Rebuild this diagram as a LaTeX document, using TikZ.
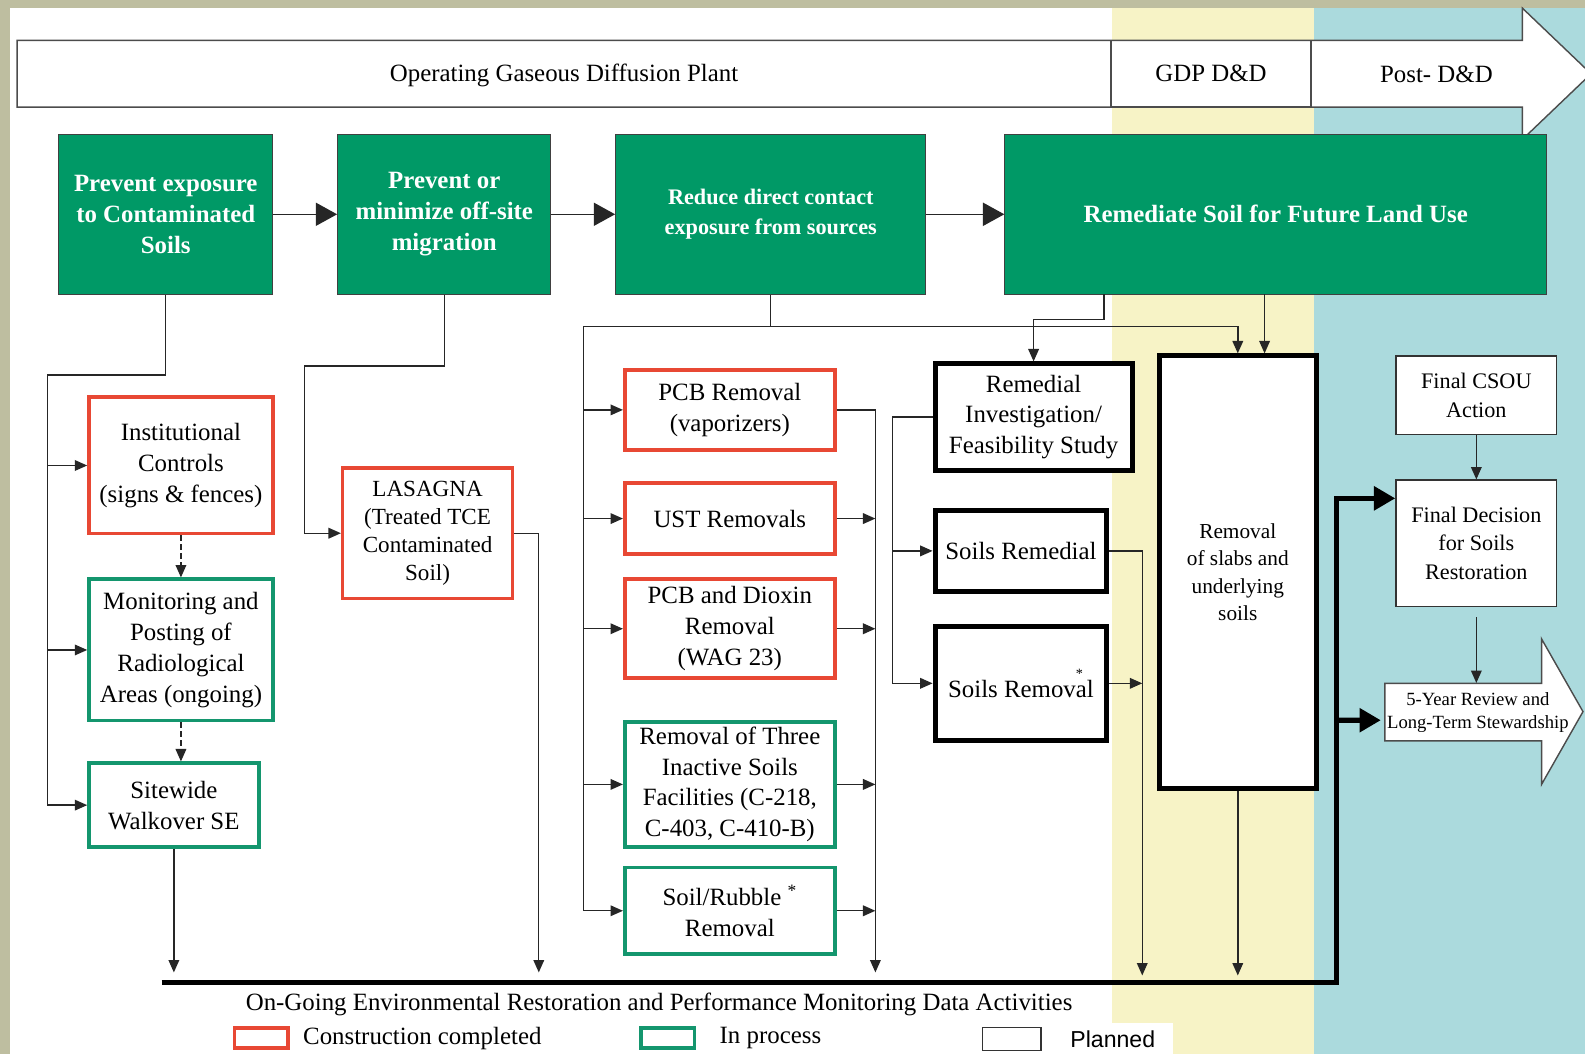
\documentclass[tikz,border=0pt]{standalone}
\usepackage{fontspec}
\setmainfont{Liberation Serif}
\setsansfont{Liberation Sans}
\usetikzlibrary{arrows.meta,positioning}

\definecolor{olivebg}{RGB}{190,190,160}
\definecolor{yellowbg}{RGB}{247,243,198}
\definecolor{bluebg}{RGB}{171,218,221}
\definecolor{goalgreen}{RGB}{0,153,102}
\definecolor{donered}{RGB}{232,72,52}
\definecolor{procgreen}{RGB}{20,150,110}

\tikzset{
	>={Triangle[length=7pt,width=6pt]},
	conn/.style={line width=0.8pt, draw=black!85},
	bigtip/.style={-{Triangle[length=12pt,width=13pt]}},
	goalbox/.style={draw=black!75, line width=0.6pt, fill=goalgreen, text=white, align=center,
		minimum height=3.16cm, font=\bfseries\fontsize{14}{17.4}\selectfont},
	boxtext/.style={align=center, inner sep=2pt, font=\fontsize{14}{17.4}\selectfont},
	donebox/.style={boxtext, draw=donered, line width=2pt, fill=white},
	procbox/.style={boxtext, draw=procgreen, line width=2pt, fill=white},
	planbox/.style={boxtext, draw=black, line width=2.8pt, fill=white},
	finalbox/.style={boxtext, draw=black!80, line width=0.8pt, fill=white,
		font=\fontsize{12.5}{16}\selectfont},
}

\begin{document}
\begin{tikzpicture}[x=0.02cm, y=-0.02cm, font=\fontsize{14}{17.4}\selectfont]
		\useasboundingbox (0,0) rectangle (1568,1043);
		% background bands
		\fill[olivebg] (0,0) rectangle (1568,1043);
		\fill[white] (10,8) rectangle (1100,1043);
		\fill[yellowbg] (1100,8) rectangle (1300,1043);
		\fill[bluebg] (1300,8) rectangle (1568,1043);
		\fill[white] (1100,1012) rectangle (1160,1043);

		% time line
		\draw[fill=white, draw=black!70, line width=0.8pt] (17,40) -- (1506,40) -- (1506,8) -- (1574,73)
			-- (1506,138) -- (1506,106) -- (17,106) -- cycle;
		\node (opgdp) at (558,75) {Operating Gaseous Diffusion Plant};
		\node[draw=black!70, line width=0.8pt, minimum width=3.96cm, minimum height=1.32cm] (gdpdd) at (1198,73) {GDP D\&D};
		\node (postdd) at (1421,74) {Post- D\&D};

		% goals
		\node[goalbox, minimum width=4.24cm] (prevexp) at (164,212) {Prevent exposure\\to Contaminated\\Soils};
		\node[goalbox, minimum width=4.22cm] (prevmig) at (439.5,212) {Prevent or\\minimize off-site\\migration};
		\node[goalbox, minimum width=6.14cm, font=\bfseries\fontsize{12.5}{16.5}\selectfont] (reduce) at (762.5,212) {Reduce direct contact\\exposure from sources};
		\node[goalbox, minimum width=10.72cm] (remsoil) at (1262,212) {Remediate Soil for Future Land Use};
		\draw[conn, bigtip] (prevexp) -- (prevmig);
		\draw[conn, bigtip] (prevmig) -- (reduce);
		\draw[conn, bigtip] (reduce) -- (remsoil);

		% actions
		\node[donebox, minimum width=3.64cm, minimum height=2.70cm] (inst) at (179,460.5) {Institutional\\Controls\\(signs \& fences)};
		\node[procbox, minimum width=3.64cm, minimum height=2.80cm] (monit) at (179,643) {Monitoring and\\Posting of\\Radiological\\Areas (ongoing)};
		\node[procbox, minimum width=3.36cm, minimum height=1.66cm] (site) at (172,796.5) {Sitewide\\Walkover SE};
		\node[donebox, minimum width=3.36cm, minimum height=2.58cm, font=\fontsize{13}{15.8}\selectfont] (lasagna) at (423,527.5) {LASAGNA\\(Treated TCE\\Contaminated\\Soil)};
		\node[donebox, minimum width=4.16cm, minimum height=1.58cm] (pcbrem) at (722,405.5) {PCB Removal\\(vaporizers)};
		\node[donebox, minimum width=4.16cm, minimum height=1.40cm] (ust) at (722,513) {UST Removals};
		\node[donebox, minimum width=4.16cm, minimum height=1.96cm] (dioxin) at (722,622) {PCB and Dioxin\\Removal\\(WAG 23)};
		\node[procbox, minimum width=4.16cm, minimum height=2.48cm] (three) at (722,776) {Removal of Three\\Inactive Soils\\Facilities (C-218,\\C-403, C-410-B)};
		\node[procbox, minimum width=4.16cm, minimum height=1.72cm] (rubble) at (722,901) {Soil/Rubble \textsuperscript{*}\\Removal};
		\node[planbox, minimum width=3.90cm, minimum height=2.10cm] (rifs) at (1022.5,412.5) {Remedial\\Investigation/\\Feasibility Study};
		\node[planbox, minimum width=3.40cm, minimum height=1.60cm] (sremed) at (1010,545) {Soils Remedial};
		\node[planbox, minimum width=3.40cm, minimum height=2.26cm] (sremov) at (1010,676) {Soils Remov\rlap{\raisebox{1.7ex}{\footnotesize*}}al};
		\node[planbox, minimum width=3.10cm, minimum height=8.56cm, font=\fontsize{12}{15.5}\selectfont] (slabs) at (1224.5,566) {Removal\\of slabs and\\underlying\\soils};
		\node[finalbox, minimum width=3.18cm, minimum height=1.56cm] (csou) at (1460.5,391) {Final CSOU\\Action};
		\node[finalbox, minimum width=3.18cm, minimum height=2.50cm] (decision) at (1460.5,537.5) {Final Decision\\for Soils\\Restoration};
		\draw[fill=white, draw=black!70, line width=0.8pt] (1370,676) -- (1525,676) -- (1525,632) -- (1566,704)
			-- (1525,776) -- (1525,733) -- (1370,733) -- cycle;
		\node[align=center, minimum width=3.68cm, minimum height=1.14cm, font=\fontsize{10.5}{13}\selectfont] (review) at (1462,704.5) {5-Year Review and\\Long-Term Stewardship};

		% from the goals
		\coordinate (trunka) at (47,371);
		\draw[conn, ->] (prevexp.south) |- (trunka) |- (site.west);
		\foreach \n in {inst, monit}
			\draw[conn, ->] (trunka |- \n.west) -- (\n.west);
		\draw[conn, ->, dash pattern=on 3pt off 2pt] (inst.south) -- (monit.north);
		\draw[conn, ->, dash pattern=on 3pt off 2pt] (monit.south) -- (monit.south |- site.north);

		\coordinate (trunkb) at (301,362);
		\draw[conn, ->] (prevmig.south) |- (trunkb) |- (lasagna.west);

		\coordinate (trunkc) at (577,323);
		\draw[conn] (reduce.south) -- (reduce.south |- trunkc);
		\draw[conn, ->] (trunkc) -| (slabs.north);
		\draw[conn, ->] (trunkc) |- (rubble.west);
		\foreach \n in {pcbrem, ust, dioxin, three}
			\draw[conn, ->] (trunkc |- \n.west) -- (\n.west);

		\coordinate (remsoila) at (1092,291);
		\coordinate (remsoilb) at (1251,291);
		\coordinate (kink) at (1092,316);
		\draw[conn, ->] (remsoila) -- (kink) -| (rifs.north);
		\draw[conn, ->] (remsoilb) -- (remsoilb |- slabs.north);

		\coordinate (trunkd) at (883,412);
		\draw[conn, ->] (rifs.west) -- (rifs.west -| trunkd) |- (sremov.west);
		\draw[conn, ->] (trunkd |- sremed.west) -- (sremed.west);

		% down to the monitoring line
		\coordinate (sinka) at (866,962);
		\draw[conn, ->] (pcbrem.east) -| (sinka);
		\foreach \n in {ust, dioxin, three, rubble}
			\draw[conn, ->] (\n.east) -- (\n.east -| sinka);
		\coordinate (sinkb) at (533,962);
		\draw[conn, ->] (lasagna.east) -| (sinkb);
		\draw[conn, ->] (site.south) -- (site.south |- sinkb);
		\coordinate (sinkc) at (1130,965);
		\draw[conn, ->] (sremed.east) -| (sinkc);
		\draw[conn, ->] (sremov.east) -- (sremov.east -| sinkc);
		\draw[conn, ->] (slabs.south) -- (slabs.south |- sinkc);

		% monitoring line
		\coordinate (busl) at (160,972);
		\coordinate (busr) at (1322,972);
		\draw[line width=3pt, bigtip] (busl) -- (busr) |- ([yshift=0.89cm]decision.west);
		\draw[line width=3pt, bigtip] (busr |- review.west) ++(0,8) -- ([yshift=-0.16cm]review.west);
		\draw[conn, ->] (csou) -- (decision);
		\draw[conn, ->] ([yshift=-0.2cm]decision.south) -- (decision.south |- review.north);

		% legend
		\node (ongoing) at (652,994) {On-Going Environmental Restoration and Performance Monitoring Data Activities};
		\node[draw=donered, line width=2pt, minimum width=1.06cm, minimum height=0.40cm] (legdone) at (258.5,1027) {};
		\node[right=0.14cm of legdone] (legdonetxt) {Construction completed};
		\node[draw=procgreen, line width=2pt, minimum width=1.06cm, minimum height=0.40cm] (legproc) at (660.5,1027) {};
		\node[right=0.34cm of legproc] (legproctxt) {In process};
		\node[draw=black!80, line width=0.8pt, minimum width=1.16cm, minimum height=0.46cm] (legplan) at (1001,1028) {};
		\node[right=0.44cm of legplan, font=\sffamily\fontsize{13}{15}\selectfont] (legplantxt) {Planned};
\end{tikzpicture}
\end{document}
